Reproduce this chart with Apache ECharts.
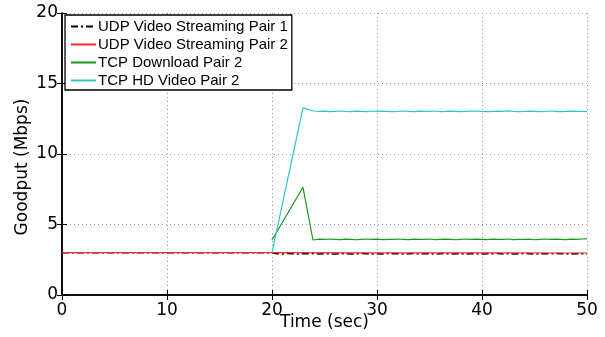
<!DOCTYPE html>
<html>
<head>
<meta charset="utf-8">
<script src="https://cdn.jsdelivr.net/npm/echarts@6/dist/echarts.min.js"></script>
<style>
html,body{margin:0;padding:0;background:#fff;}
#chart{width:605px;height:337px;}
</style>
</head>
<body>
<div id="chart"></div>
<script>
// Goodput traces over time (seconds, Mbps)
var seriesNames = ['UDP Video Streaming Pair 1', 'UDP Video Streaming Pair 2', 'TCP Download Pair 2', 'TCP HD Video Pair 2'];
var xTitle = 'Time (sec)';
var yTitle = 'Goodput (Mbps)';

// UDP pair 1: steady before 20 s, then sampled every 0.5 s from 20.5 s
var udp1Head = [[0, 3.0], [20, 3.0]];
var udp1Tail = [2.93,2.91,2.94,2.92,2.90,2.93,2.92,2.94,2.91,2.93,2.92,2.90,2.94,2.93,2.91,2.92,2.94,2.92,2.90,2.93,
                2.91,2.94,2.92,2.93,2.90,2.92,2.94,2.91,2.93,2.92,2.90,2.93,2.94,2.91,2.92,2.93,2.90,2.94,2.92,2.91,
                2.93,2.92,2.94,2.90,2.93,2.91,2.92,2.94,2.93,2.90,2.92,2.93,2.91,2.94,2.92,2.93,2.90,2.92,2.93,2.92];

// UDP pair 2: flat
var udp2 = [[0, 3.0], [20, 3.0], [30, 2.99], [40, 2.99], [50, 2.98]];

// TCP download: ramp, drop, then sampled every 0.5 s from 24 s
var tcpHead = [[20, 3.9], [22.95, 7.64], [23.9, 3.9]];
var tcpTail = [3.93,3.96,3.94,3.97,3.95,3.93,3.96,3.94,3.92,3.95,3.97,3.94,3.96,3.93,3.95,3.94,3.97,3.95,3.93,3.96,
               3.94,3.95,3.97,3.93,3.95,3.96,3.94,3.92,3.95,3.97,3.94,3.96,3.95,3.93,3.96,3.94,3.95,3.97,3.93,3.95,
               3.94,3.96,3.92,3.95,3.97,3.94,3.96,3.95,3.93,3.96,3.95,3.97,3.98];

// TCP HD video: ramp up, then sampled every 0.5 s from 24 s
var hdHead = [[20, 3.0], [22.95, 13.27]];
var hdTail = [13.05,13.02,13.04,13.01,13.03,13.05,13.02,13.00,13.04,13.03,13.01,13.05,13.02,13.04,13.03,13.00,13.02,13.05,13.03,13.01,
              13.04,13.02,13.03,13.05,13.01,13.02,13.04,13.03,13.00,13.02,13.04,13.05,13.02,13.01,13.03,13.04,13.02,13.06,13.03,13.01,
              13.02,13.04,13.03,13.00,13.02,13.05,13.03,13.01,13.02,13.04,13.03,13.02,13.01];

var xTicks = [0, 10, 20, 30, 40, 50];
var yTicks = [0, 5, 10, 15, 20];

function sampled(head, tail, start, step) {
  var out = head.slice();
  for (var i = 0; i < tail.length; i++) out.push([start + i * step, tail[i]]);
  return out;
}

var chart = echarts.init(document.getElementById('chart'), null, {renderer: 'canvas'});
var font = 'Liberation Sans, Arial, sans-serif';
var axisFont = 'DejaVu Sans, sans-serif';
var tick = {show: true, inside: true, length: 5, lineStyle: {color: '#000', width: 1}};
var grid = {show: true, lineStyle: {color: '#9a9a9a', type: [1, 3], width: 1}};

chart.setOption({
  animation: false,
  backgroundColor: '#fff',
  grid: {left: 62, right: 18, top: 13, bottom: 42, show: false, containLabel: false, outerBoundsMode: 'none'},
  // vertical axis title, set a little below the plot's centre line
  graphic: [{
    type: 'text', x: 23, y: 167, rotation: Math.PI / 2,
    style: {text: yTitle, fontFamily: axisFont, fontSize: 17, fill: '#000', align: 'center', verticalAlign: 'middle'}
  }],
  legend: {
    orient: 'vertical',
    left: 65, top: 15,
    width: 223,
    backgroundColor: '#fff',
    borderColor: '#000',
    borderWidth: 1.3,
    padding: [4, 4, 2, 5],
    itemWidth: 25, itemHeight: 14, itemGap: 3,
    itemStyle: {opacity: 0},
    textStyle: {fontFamily: font, fontSize: 15, lineHeight: 14, color: '#000', padding: [0, 0, 0, -3]},
    data: seriesNames
  },
  xAxis: [{
    type: 'value', min: 0, max: 50, interval: 10,
    name: xTitle, nameLocation: 'middle', nameGap: 19, nameMoveOverlap: false,
    nameTextStyle: {fontFamily: axisFont, fontSize: 17, color: '#000'},
    axisLine: {show: true, lineStyle: {color: '#000', width: 1.5}},
    axisTick: tick,
    axisLabel: {fontFamily: axisFont, fontSize: 17, color: '#000', margin: 7,
      formatter: function (v) { return xTicks.indexOf(v) >= 0 ? String(v) : ''; }},
    splitLine: grid
  }, {
    type: 'value', min: 0, max: 50, interval: 10, position: 'top',
    axisLine: {show: true, lineStyle: {color: '#000', width: 1.5}},
    axisTick: tick, axisLabel: {show: false}, splitLine: {show: false}
  }],
  yAxis: [{
    type: 'value', min: 0, max: 20, interval: 5,
    axisLine: {show: true, lineStyle: {color: '#000', width: 1.5}},
    axisTick: tick,
    axisLabel: {fontFamily: axisFont, fontSize: 17, color: '#000', margin: 4,
      formatter: function (v) { return yTicks.indexOf(v) >= 0 ? String(v) : ''; }},
    splitLine: grid
  }, {
    type: 'value', min: 0, max: 20, interval: 5, position: 'right',
    axisLine: {show: true, lineStyle: {color: '#000', width: 1.5}},
    axisTick: tick, axisLabel: {show: false}, splitLine: {show: false}
  }],
  series: [
    {name: seriesNames[0], type: 'line', symbol: 'none', color: '#000',
     lineStyle: {color: '#000', width: 1.5, type: [7, 3, 2, 3]},
     data: sampled(udp1Head, udp1Tail, 20.5, 0.5)},
    {name: seriesNames[1], type: 'line', symbol: 'none', color: '#ff2828',
     lineStyle: {color: '#ff2828', width: 1.2}, data: udp2},
    {name: seriesNames[2], type: 'line', symbol: 'none', color: '#1a991a',
     lineStyle: {color: '#1a991a', width: 1.2},
     data: sampled(tcpHead, tcpTail, 24, 0.5)},
    {name: seriesNames[3], type: 'line', symbol: 'none', color: '#2cc8c8',
     lineStyle: {color: '#2cc8c8', width: 1.2},
     data: sampled(hdHead, hdTail, 24, 0.5)}
  ]
});
</script>
</body>
</html>
